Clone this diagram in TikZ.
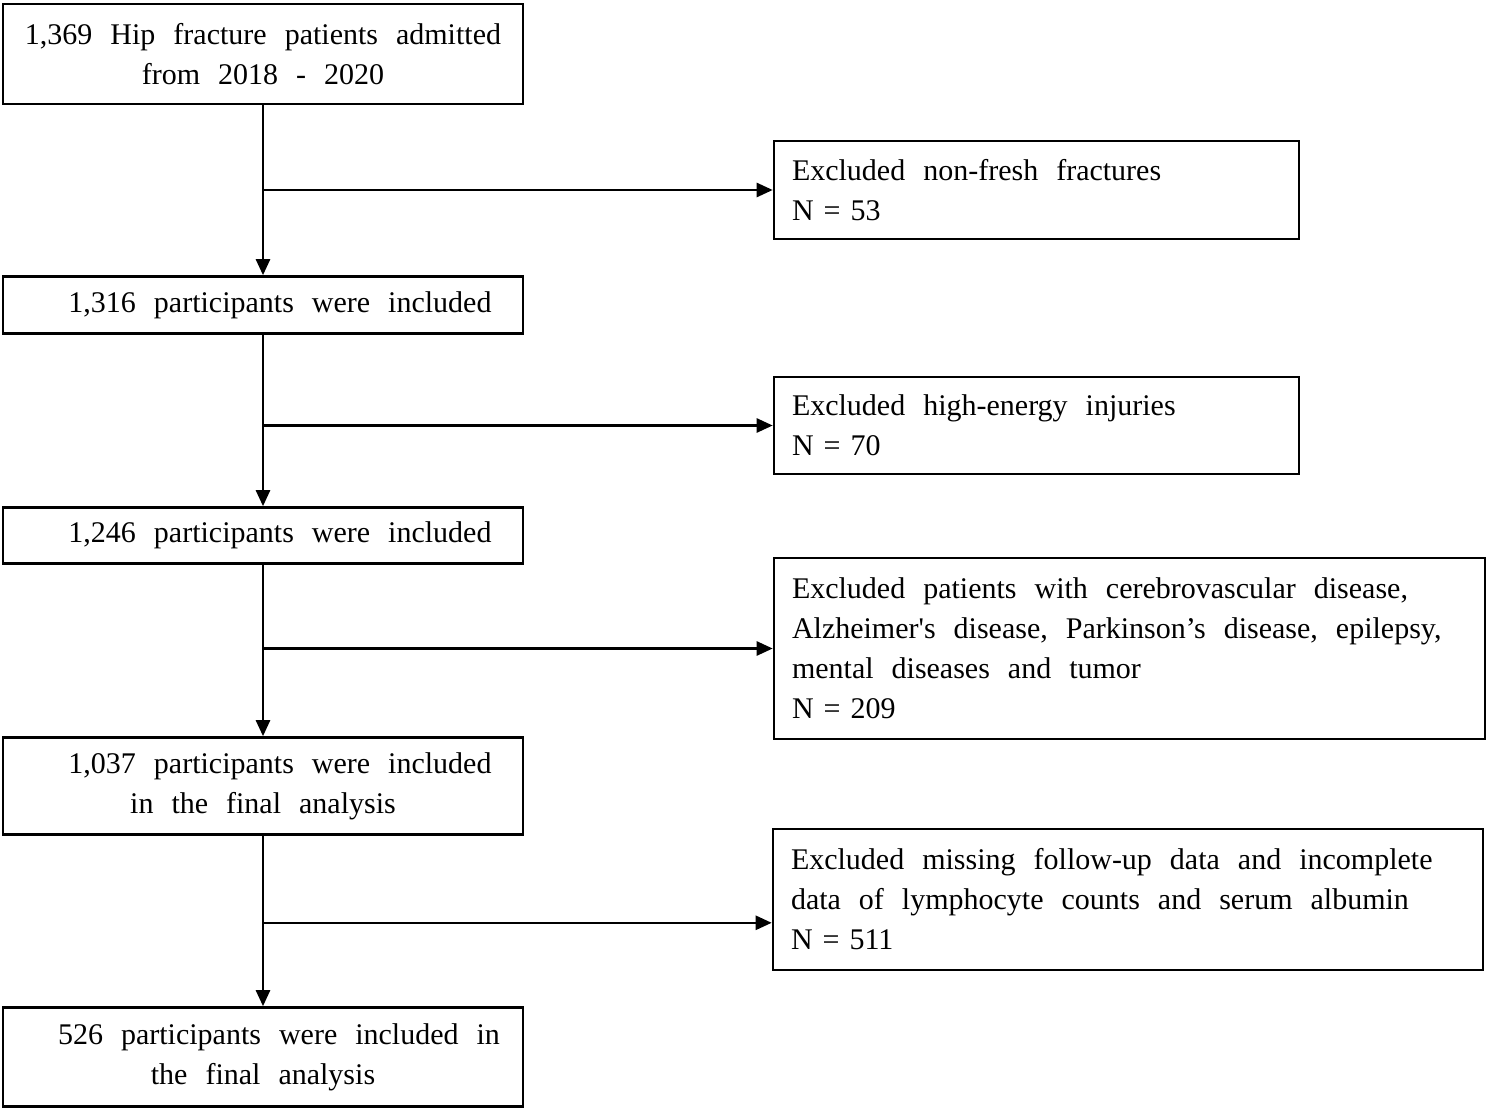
\documentclass[tikz,border=0pt]{standalone}
\usepackage{fontspec}
\setmainfont{Liberation Serif}
\usetikzlibrary{arrows.meta,calc}
\newcommand{\nsp}{\hspace{10pt}}
\newcommand{\widesp}{\spaceskip=18pt plus 2pt minus 1pt\relax}
\newcommand{\boxfont}{\fontsize{30}{40}\selectfont\widesp}
\begin{document}
\begin{tikzpicture}[x=1pt,y=-1pt,
  box/.style={draw,line width=2.6pt,inner sep=0pt,font=\boxfont},
  lbox/.style={box,minimum width=520pt,align=center},
  rbox/.style={box,align=left},
  arr/.style={line width=2.6pt,-{Triangle[length=16pt,width=14pt]}}]
\useasboundingbox (0,0) rectangle (1489,1110);
\node[lbox,minimum height=100pt] (b1) at (263,54) {1,369 Hip fracture patients admitted\\from 2018 - 2020};
\node[lbox,minimum height=57pt] (b2) at (263,305) {\hspace*{34pt}1,316 participants were included};
\node[lbox,minimum height=56pt] (b3) at (263,535.5) {\hspace*{34pt}1,246 participants were included};
\node[lbox,minimum height=97pt] (b4) at (263,786) {\hspace*{34pt}1,037 participants were included\\in the final analysis};
\node[lbox,minimum height=99pt] (b5) at (263,1057) {\hspace*{32pt}526 participants were included in\\the final analysis};
\node[rbox,minimum width=525pt,minimum height=98pt,text width=489pt] (r1) at (1036.5,190) {\widesp Excluded non-fresh fractures\\N\nsp=\nsp53};
\node[rbox,minimum width=525pt,minimum height=97pt,text width=489pt] (r2) at (1036.5,425.5) {\widesp Excluded high-energy injuries\\N\nsp=\nsp70};
\node[rbox,minimum width=711pt,minimum height=181pt,text width=675pt] (r3) at (1129.5,648.5) {\widesp Excluded patients with cerebrovascular disease,\\Alzheimer\textquotesingle s disease, Parkinson’s disease, epilepsy,\\mental diseases and tumor\\N\nsp=\nsp209};
\node[rbox,minimum width=710pt,minimum height=141pt,text width=674pt] (r4) at (1128,899.5) {\widesp Excluded missing follow-up data and incomplete\\data of lymphocyte counts and serum albumin\\N\nsp=\nsp511};
\coordinate (j1) at (b1.south |- r1.west);
\coordinate (j2) at (b2.south |- r2.west);
\coordinate (j3) at (b3.south |- r3.west);
\coordinate (j4) at ($(b4.south)+(0,87)$);
\draw[arr] (b1.south) -- (b2.north);
\draw[arr] (b2.south) -- (b3.north);
\draw[arr] (b3.south) -- (b4.north);
\draw[arr] (b4.south) -- (b5.north);
\draw[arr] (j1) -- (r1.west);
\draw[arr] (j2) -- (r2.west);
\draw[arr] (j3) -- (r3.west);
\draw[arr] (j4) -- (j4 -| r4.west);
\end{tikzpicture}
\end{document}
